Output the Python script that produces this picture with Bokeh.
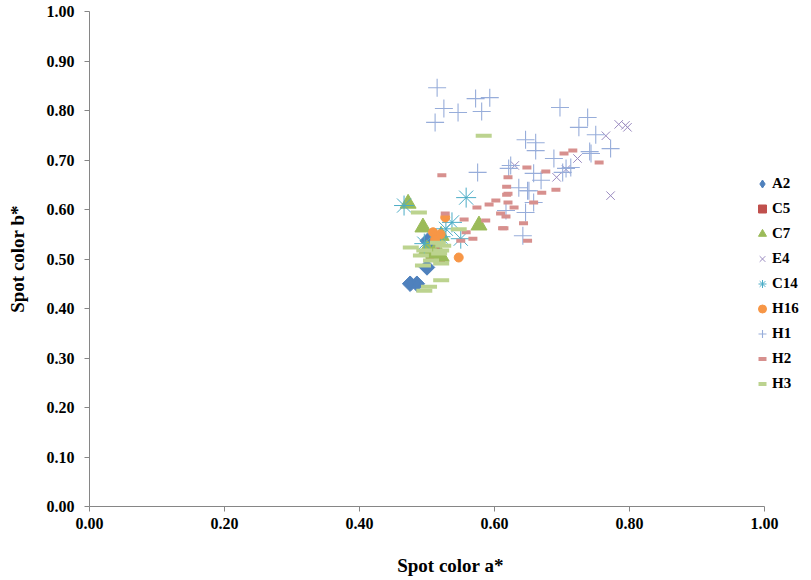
import numpy as np
from bokeh.plotting import figure
from bokeh.models import Legend, LegendItem, FixedTicker, NumeralTickFormatter
from bokeh.embed import file_html
from bokeh.resources import INLINE

# ---- data ----
a2_x = [0.475, 0.485, 0.500, 0.501, 0.510]
a2_y = [0.450, 0.450, 0.483, 0.537, 0.520]

c5_x = [0.505, 0.512, 0.520]
c5_y = [0.505, 0.515, 0.500]

c7_x = [0.472, 0.494, 0.521, 0.577, 0.510, 0.521, 0.500]
c7_y = [0.612, 0.564, 0.547, 0.568, 0.511, 0.505, 0.520]

e4_x = [0.630, 0.692, 0.706, 0.723, 0.765, 0.784, 0.794, 0.797, 0.772]
e4_y = [0.689, 0.665, 0.681, 0.703, 0.749, 0.772, 0.770, 0.766, 0.628]

c14_x = [0.466, 0.558, 0.537, 0.528, 0.550, 0.496, 0.520]
c14_y = [0.608, 0.624, 0.574, 0.561, 0.541, 0.531, 0.545]

h16_x = [0.527, 0.547, 0.509, 0.512, 0.520]
h16_y = [0.584, 0.503, 0.554, 0.539, 0.550]

h1_x = [0.515, 0.525, 0.546, 0.512, 0.572, 0.593, 0.581, 0.697, 0.738, 0.725,
        0.750, 0.772, 0.743, 0.646, 0.661, 0.661, 0.688, 0.575, 0.706, 0.621,
        0.658, 0.669, 0.649, 0.658, 0.636, 0.617, 0.646, 0.642, 0.701, 0.713,
        0.624, 0.651, 0.741]
h1_y = [0.846, 0.804, 0.796, 0.776, 0.824, 0.826, 0.798, 0.806, 0.786, 0.766,
        0.751, 0.723, 0.713, 0.741, 0.735, 0.719, 0.703, 0.675, 0.683, 0.683,
        0.673, 0.659, 0.638, 0.614, 0.644, 0.598, 0.594, 0.547, 0.675, 0.685,
        0.689, 0.638, 0.717]

h2_x = [0.522, 0.574, 0.592, 0.602, 0.618, 0.618, 0.620, 0.648, 0.629, 0.609,
        0.587, 0.555, 0.612, 0.643, 0.649, 0.568, 0.550, 0.558, 0.658, 0.527,
        0.703, 0.716, 0.755, 0.676, 0.691, 0.670, 0.620, 0.620, 0.617, 0.614]
h2_y = [0.669, 0.604, 0.610, 0.618, 0.646, 0.630, 0.614, 0.685, 0.604, 0.592,
        0.578, 0.580, 0.562, 0.572, 0.537, 0.541, 0.537, 0.554, 0.614, 0.592,
        0.713, 0.719, 0.695, 0.677, 0.640, 0.634, 0.665, 0.632, 0.586, 0.562]

h3_x = [0.488, 0.547, 0.521, 0.503, 0.496, 0.516, 0.476, 0.496, 0.521, 0.491,
        0.518, 0.506, 0.494, 0.521, 0.524, 0.584]
h3_y = [0.594, 0.560, 0.457, 0.444, 0.436, 0.533, 0.523, 0.517, 0.517, 0.507,
        0.511, 0.497, 0.487, 0.491, 0.527, 0.749]

series_names = ["A2", "C5", "C7", "E4", "C14", "H16", "H1", "H2", "H3"]
x_ticks = [0.0, 0.2, 0.4, 0.6, 0.8, 1.0]
y_ticks = [0.0, 0.1, 0.2, 0.3, 0.4, 0.5, 0.6, 0.7, 0.8, 0.9, 1.0]

FONT = "Liberation Serif"
AXIS_COLOR = "#868686"

# frame spans to the right edge so the legend (drawn inside it) is not clipped;
# axis bounds keep the x axis line ending at 1.00
x_end = (811 - 89) / 675.0
p = figure(width=811, height=580, output_backend="svg", toolbar_location=None,
           x_range=(0, x_end), y_range=(0, 1),
           min_border_left=89, min_border_right=0, min_border_top=11, min_border_bottom=74)
p.outline_line_color = None
p.xgrid.visible = False
p.ygrid.visible = False
p.background_fill_color = "white"
p.border_fill_color = "white"

for ax, ticks in ((p.xaxis[0], x_ticks), (p.yaxis[0], y_ticks)):
    ax.ticker = FixedTicker(ticks=ticks)
    ax.formatter = NumeralTickFormatter(format="0.00")
    ax.bounds = (0, 1)
    ax.axis_line_color = AXIS_COLOR
    ax.major_tick_line_color = AXIS_COLOR
    ax.major_tick_out = 5
    ax.major_tick_in = 0
    ax.minor_tick_line_color = None
    ax.major_label_text_font = FONT
    ax.major_label_text_font_style = "bold"
    ax.major_label_text_font_size = "16px"
    ax.major_label_text_color = "black"
    ax.axis_label_text_font = FONT
    ax.axis_label_text_font_style = "bold"
    ax.axis_label_text_font_size = "19px"
    ax.axis_label_text_color = "black"

p.xaxis.axis_label = "Spot color a*"
p.yaxis.axis_label = "Spot color b*"
p.xaxis.major_label_standoff = 6
p.xaxis.axis_label_standoff = 23
p.yaxis.major_label_standoff = 10
p.yaxis.axis_label_standoff = 16

renderers = []
# A2: rotated squares (equal-sided diamonds); a plain diamond glyph drawn on the
# same points sits fully inside them and provides the legend swatch
p.scatter(a2_x, a2_y, marker="square", angle=np.pi / 4, size=11,
          fill_color="#4F81BD", line_color="#4F81BD")
r = p.scatter(a2_x, a2_y, marker="diamond", size=10, fill_color="#4F81BD", line_color="#4F81BD")
renderers.append(r)
r = p.scatter(c5_x, c5_y, marker="square", size=8, fill_color="#C0504D", line_color="#C0504D")
renderers.append(r)
r = p.scatter(c7_x, c7_y, marker="triangle", size=16, fill_color="#9BBB59", line_color="#9BBB59")
renderers.append(r)
r = p.scatter(e4_x, e4_y, marker="x", size=12, line_color="#9A8AC0", line_width=1)
renderers.append(r)
r = p.scatter(c14_x, c14_y, marker="asterisk", size=20, line_color="#4BACC6", line_width=1)
renderers.append(r)
r = p.scatter(h16_x, h16_y, marker="circle", size=9, fill_color="#F79646", line_color="#F79646")
renderers.append(r)
r = p.scatter(h1_x, h1_y, marker="cross", size=18, line_color="#97ADDA", line_width=1.1)
renderers.append(r)
r = p.scatter(h2_x, h2_y, marker="dash", size=9, line_color="#D7908E", line_width=4)
renderers.append(r)
r = p.scatter(h3_x, h3_y, marker="dash", size=16, line_color="#BCD38F", line_width=4)
renderers.append(r)

items = [LegendItem(label=n, renderers=[rr]) for n, rr in zip(series_names, renderers)]
legend = Legend(items=items, location=(663, 112), orientation="vertical",
                label_text_font=FONT, label_text_font_style="bold",
                label_text_font_size="15px", label_text_color="black",
                glyph_width=20, glyph_height=21, label_height=21, spacing=4,
                label_standoff=0, padding=0, margin=0,
                background_fill_alpha=0, border_line_color=None)
p.add_layout(legend, "center")

open("out.html", "w").write(file_html(p, INLINE))
